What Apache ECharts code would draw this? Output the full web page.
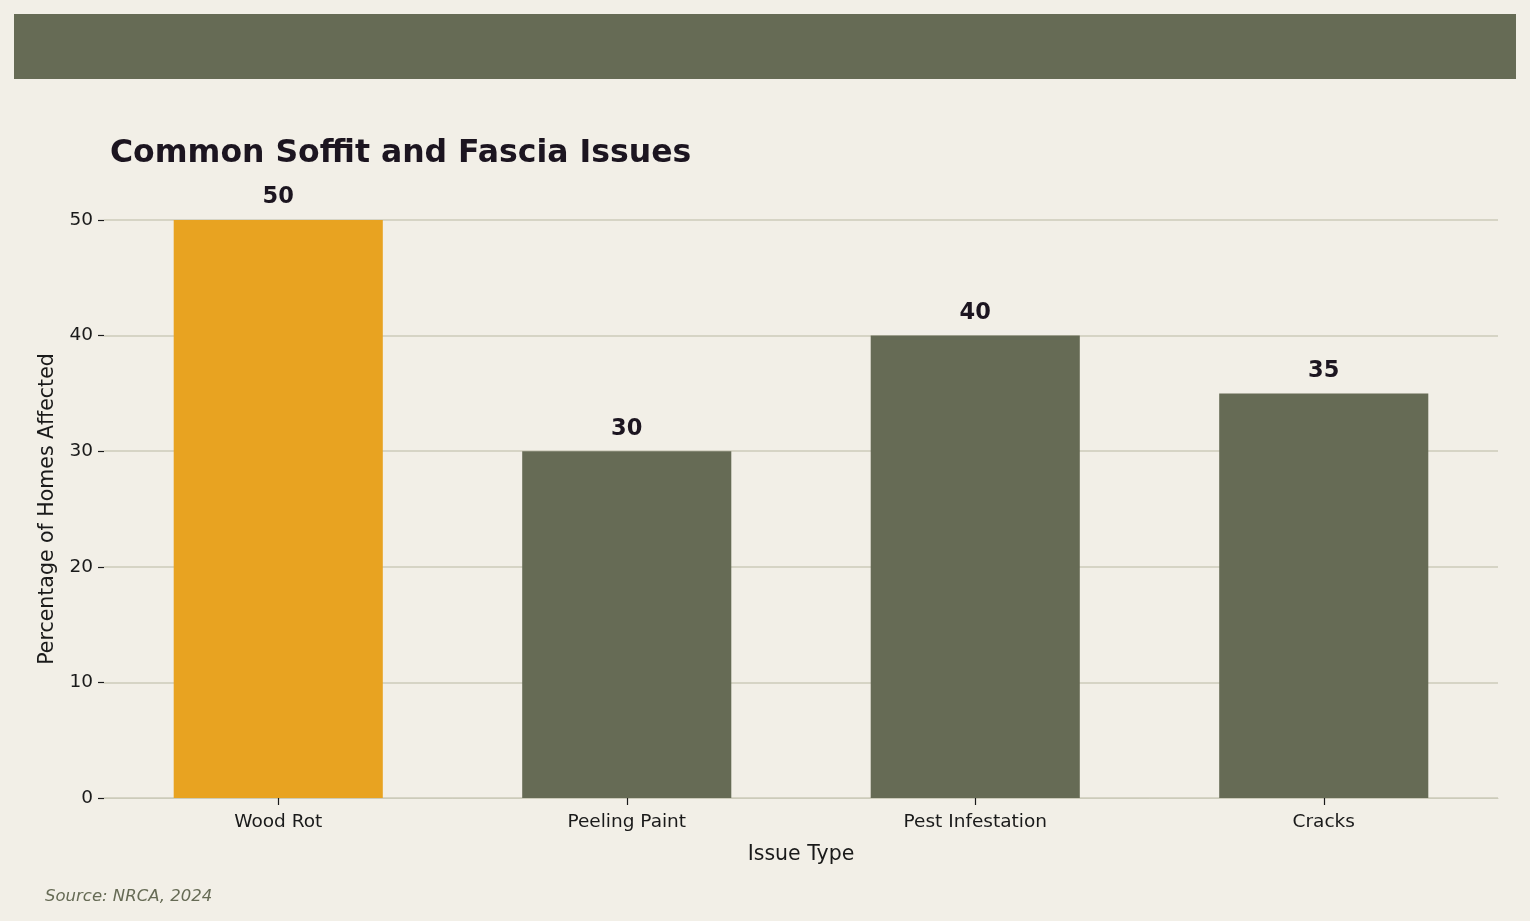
<!DOCTYPE html>
<html>
<head>
<meta charset="utf-8">
<script src="https://cdn.jsdelivr.net/npm/echarts@6/dist/echarts.min.js"></script>
<style>
  html, body { margin: 0; padding: 0; background: #F2EFE7; }
  #chart { width: 1530px; height: 921px; }
</style>
</head>
<body>
<div id="chart"></div>
<script>
// data
const categories = ['Wood Rot', 'Peeling Paint', 'Pest Infestation', 'Cracks'];
const values = [50, 30, 40, 35];
const highlight = 'Wood Rot';

const chart = echarts.init(document.getElementById('chart'));

const option = {
  backgroundColor: '#F2EFE7',
  textStyle: { fontFamily: 'DejaVu Sans' },
  title: {
    text: 'Common Soffit and Fascia Issues',
    left: 105,
    top: 133,
    textStyle: { fontSize: 31.5, fontWeight: 'bold', color: '#1C1520' }
  },
  graphic: [
    {
      type: 'rect',
      shape: { x: 14, y: 14, width: 1502, height: 65 },
      style: { fill: '#666B55' }
    },
    {
      type: 'text',
      left: 45,
      top: 888,
      style: {
        text: 'Source: NRCA, 2024',
        fontSize: 16.5,
        fontStyle: 'italic',
        fill: '#666B55',
        fontFamily: 'DejaVu Sans'
      }
    }
  ],
  grid: { left: 104, right: 32, top: 220, bottom: 123 },
  xAxis: {
    type: 'category',
    data: categories,
    name: 'Issue Type',
    nameLocation: 'middle',
    nameGap: 46,
    nameTextStyle: { fontSize: 20.5, color: '#1a1a1a' },
    axisLine: { show: true, lineStyle: { color: '#CCCBBA', width: 1 } },
    axisTick: { show: true, alignWithLabel: true, length: 7, lineStyle: { color: '#1a1a1a', width: 1.2 } },
    axisLabel: { fontSize: 18.5, color: '#1a1a1a', margin: 15 }
  },
  yAxis: {
    type: 'value',
    min: 0,
    max: 50,
    interval: 10,
    name: 'Percentage of Homes Affected',
    nameLocation: 'middle',
    nameGap: 44,
    nameTextStyle: { fontSize: 20.5, color: '#1a1a1a' },
    axisLine: { show: false },
    axisTick: { show: true, length: 6, lineStyle: { color: '#1a1a1a', width: 1.2 } },
    axisLabel: { fontSize: 18.5, color: '#1a1a1a', margin: 11 },
    splitLine: { lineStyle: { color: '#CCCBBA', width: 1.5 } }
  },
  series: [{
    type: 'bar',
    data: values.map((v, i) => ({
      value: v,
      itemStyle: { color: categories[i] === highlight ? '#E8A321' : '#666B55' }
    })),
    barWidth: '60%',
    label: {
      show: true,
      position: 'top',
      distance: 11,
      fontSize: 22.5,
      fontWeight: 'bold',
      color: '#1C1520'
    }
  }]
};

chart.setOption(option);
</script>
</body>
</html>
